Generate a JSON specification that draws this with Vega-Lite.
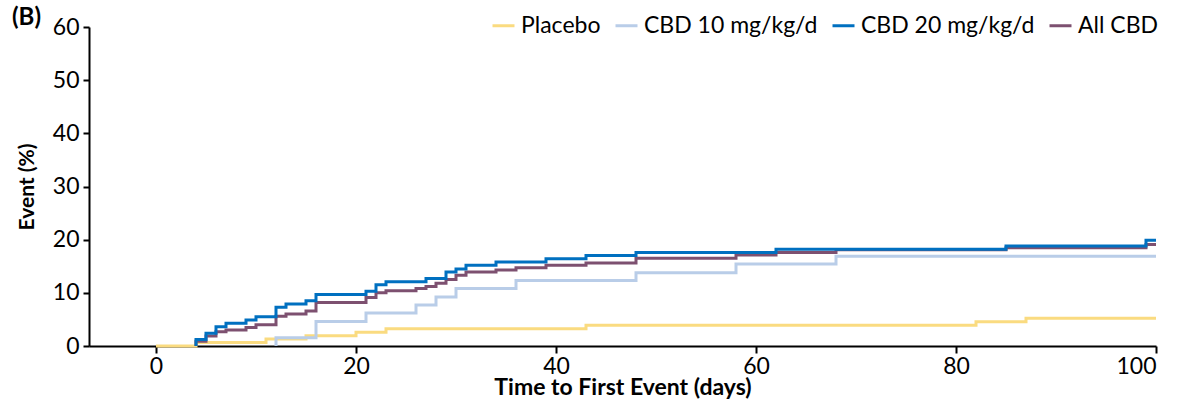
{
  "$schema": "https://vega.github.io/schema/vega-lite/v6.json",
  "width": 1067,
  "height": 319,
  "autosize": "none",
  "padding": {"left": 89, "top": 27, "right": 31, "bottom": 58},
  "background": "white",
  "config": {
    "view": {"stroke": null},
    "font": "Lato",
    "axis": {
      "domainColor": "black",
      "domainWidth": 2,
      "tickColor": "black",
      "tickWidth": 2,
      "grid": false,
      "labelColor": "black",
      "titleColor": "black",
      "labelFont": "Lato",
      "titleFont": "Lato",
      "labelFontSize": 23,
      "titleFontWeight": "bold"
    }
  },
  "title": {
    "text": "(B)",
    "anchor": "start",
    "frame": "group",
    "orient": "top",
    "font": "Lato",
    "fontSize": 24,
    "fontWeight": "bold",
    "color": "black",
    "baseline": "alphabetic",
    "offset": 0,
    "dx": -77,
    "dy": 36
  },
  "data": {
    "values": [
      {"group": "Placebo", "day": 0, "pct": 0},
      {"group": "Placebo", "day": 4, "pct": 0.65},
      {"group": "Placebo", "day": 11, "pct": 1.3},
      {"group": "Placebo", "day": 15, "pct": 1.95},
      {"group": "Placebo", "day": 20, "pct": 2.6},
      {"group": "Placebo", "day": 23, "pct": 3.25},
      {"group": "Placebo", "day": 43, "pct": 3.9},
      {"group": "Placebo", "day": 82, "pct": 4.55},
      {"group": "Placebo", "day": 87, "pct": 5.2},
      {"group": "Placebo", "day": 100, "pct": 5.2},
      {"group": "CBD 10 mg/kg/d", "day": 12, "pct": 0},
      {"group": "CBD 10 mg/kg/d", "day": 12, "pct": 1.54},
      {"group": "CBD 10 mg/kg/d", "day": 16, "pct": 4.6},
      {"group": "CBD 10 mg/kg/d", "day": 21, "pct": 6.2},
      {"group": "CBD 10 mg/kg/d", "day": 26, "pct": 7.7},
      {"group": "CBD 10 mg/kg/d", "day": 28, "pct": 9.2},
      {"group": "CBD 10 mg/kg/d", "day": 30, "pct": 10.8},
      {"group": "CBD 10 mg/kg/d", "day": 36, "pct": 12.3},
      {"group": "CBD 10 mg/kg/d", "day": 48, "pct": 13.8},
      {"group": "CBD 10 mg/kg/d", "day": 58, "pct": 15.4},
      {"group": "CBD 10 mg/kg/d", "day": 68, "pct": 16.9},
      {"group": "CBD 10 mg/kg/d", "day": 100, "pct": 16.9},
      {"group": "All CBD", "day": 4, "pct": 0},
      {"group": "All CBD", "day": 4, "pct": 0.9},
      {"group": "All CBD", "day": 5, "pct": 1.9},
      {"group": "All CBD", "day": 6, "pct": 2.7},
      {"group": "All CBD", "day": 7, "pct": 3.0},
      {"group": "All CBD", "day": 9, "pct": 3.5},
      {"group": "All CBD", "day": 10, "pct": 4.0},
      {"group": "All CBD", "day": 12, "pct": 5.6},
      {"group": "All CBD", "day": 13, "pct": 6.0},
      {"group": "All CBD", "day": 15, "pct": 6.6},
      {"group": "All CBD", "day": 16, "pct": 8.2},
      {"group": "All CBD", "day": 21, "pct": 9.1},
      {"group": "All CBD", "day": 22, "pct": 10.0},
      {"group": "All CBD", "day": 23, "pct": 10.4},
      {"group": "All CBD", "day": 26, "pct": 10.8},
      {"group": "All CBD", "day": 27, "pct": 11.2},
      {"group": "All CBD", "day": 28, "pct": 11.8},
      {"group": "All CBD", "day": 29, "pct": 12.5},
      {"group": "All CBD", "day": 30, "pct": 13.3},
      {"group": "All CBD", "day": 31, "pct": 13.9},
      {"group": "All CBD", "day": 34, "pct": 14.3},
      {"group": "All CBD", "day": 36, "pct": 14.7},
      {"group": "All CBD", "day": 39, "pct": 15.2},
      {"group": "All CBD", "day": 43, "pct": 15.6},
      {"group": "All CBD", "day": 48, "pct": 16.5},
      {"group": "All CBD", "day": 58, "pct": 17.1},
      {"group": "All CBD", "day": 62, "pct": 17.6},
      {"group": "All CBD", "day": 68, "pct": 18.1},
      {"group": "All CBD", "day": 85, "pct": 18.5},
      {"group": "All CBD", "day": 99, "pct": 19.1},
      {"group": "All CBD", "day": 100, "pct": 19.1},
      {"group": "CBD 20 mg/kg/d", "day": 4, "pct": 0},
      {"group": "CBD 20 mg/kg/d", "day": 4, "pct": 1.2},
      {"group": "CBD 20 mg/kg/d", "day": 5, "pct": 2.4},
      {"group": "CBD 20 mg/kg/d", "day": 6, "pct": 3.6},
      {"group": "CBD 20 mg/kg/d", "day": 7, "pct": 4.3},
      {"group": "CBD 20 mg/kg/d", "day": 9, "pct": 4.9},
      {"group": "CBD 20 mg/kg/d", "day": 10, "pct": 5.5},
      {"group": "CBD 20 mg/kg/d", "day": 12, "pct": 7.3},
      {"group": "CBD 20 mg/kg/d", "day": 13, "pct": 7.9},
      {"group": "CBD 20 mg/kg/d", "day": 15, "pct": 8.5},
      {"group": "CBD 20 mg/kg/d", "day": 16, "pct": 9.7},
      {"group": "CBD 20 mg/kg/d", "day": 21, "pct": 10.3},
      {"group": "CBD 20 mg/kg/d", "day": 22, "pct": 11.5},
      {"group": "CBD 20 mg/kg/d", "day": 23, "pct": 12.1},
      {"group": "CBD 20 mg/kg/d", "day": 27, "pct": 12.7},
      {"group": "CBD 20 mg/kg/d", "day": 29, "pct": 13.9},
      {"group": "CBD 20 mg/kg/d", "day": 30, "pct": 14.5},
      {"group": "CBD 20 mg/kg/d", "day": 31, "pct": 15.2},
      {"group": "CBD 20 mg/kg/d", "day": 34, "pct": 15.8},
      {"group": "CBD 20 mg/kg/d", "day": 39, "pct": 16.4},
      {"group": "CBD 20 mg/kg/d", "day": 43, "pct": 17.0},
      {"group": "CBD 20 mg/kg/d", "day": 48, "pct": 17.6},
      {"group": "CBD 20 mg/kg/d", "day": 62, "pct": 18.2},
      {"group": "CBD 20 mg/kg/d", "day": 85, "pct": 18.8},
      {"group": "CBD 20 mg/kg/d", "day": 99, "pct": 19.9},
      {"group": "CBD 20 mg/kg/d", "day": 100, "pct": 19.9}
    ]
  },
  "mark": {"type": "line", "interpolate": "step-after", "strokeWidth": 3},
  "encoding": {
    "x": {
      "field": "day",
      "type": "quantitative",
      "scale": {"domain": [-6.7, 100], "nice": false, "zero": false},
      "axis": {
        "values": [0, 20, 40, 60, 80, 100],
        "title": "Time to First Event (days)",
        "titleFontSize": 23,
        "tickSize": 7,
        "labelPadding": 2,
        "titlePadding": -2
      }
    },
    "y": {
      "field": "pct",
      "type": "quantitative",
      "scale": {"domain": [0, 60], "nice": false},
      "axis": {
        "values": [0, 10, 20, 30, 40, 50, 60],
        "title": "Event (%)",
        "titleFontSize": 21,
        "tickSize": 6,
        "labelPadding": 4,
        "titlePadding": 15
      }
    },
    "color": {
      "field": "group",
      "type": "nominal",
      "scale": {
        "domain": ["Placebo", "CBD 10 mg/kg/d", "CBD 20 mg/kg/d", "All CBD"],
        "range": ["#FADB80", "#B9CDE8", "#0070C0", "#7D5070"]
      },
      "legend": {
        "orient": "none",
        "direction": "horizontal",
        "legendX": 402,
        "legendY": -14,
        "title": null,
        "padding": 0,
        "symbolType": "stroke",
        "symbolSize": 484,
        "symbolStrokeWidth": 3,
        "labelFontSize": 23,
        "labelFont": "Lato",
        "labelColor": "black",
        "labelLimit": 0,
        "labelOffset": 5,
        "columnPadding": 8
      }
    }
  }
}
